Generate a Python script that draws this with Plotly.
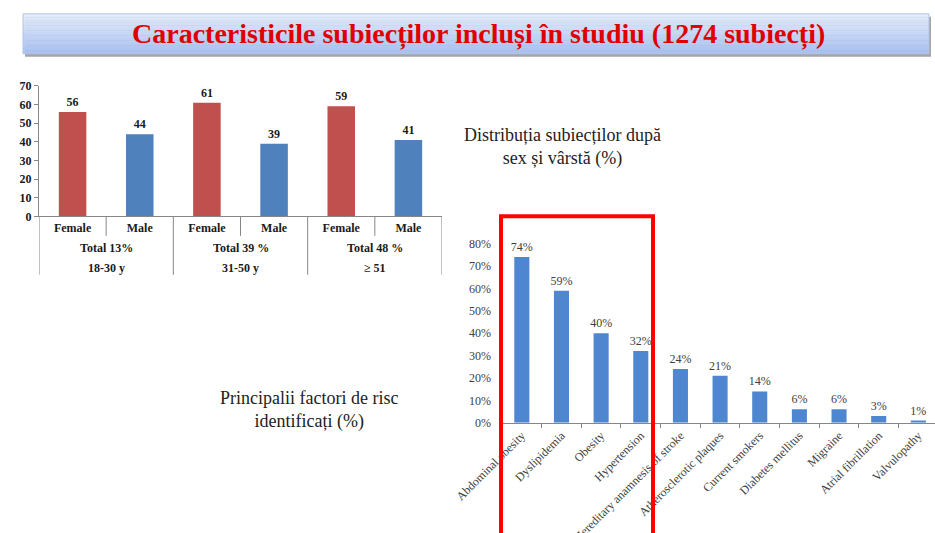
import plotly.graph_objects as go

# ---- data: chart 1 (sex & age distribution) ----
sexes = ["Female", "Male", "Female", "Male", "Female", "Male"]
sex_values = [56, 44, 61, 39, 59, 41]
group_totals = ["Total 13%", "Total 39 %", "Total 48 %"]
age_groups = ["18-30 y", "31-50 y", "≥ 51"]

# ---- data: chart 2 (risk factors) ----
risk_factors = ["Abdominal obesity", "Dyslipidemia", "Obesity", "Hypertension",
                "Hereditary anamnesis of stroke", "Atherosclerotic plaques",
                "Current smokers", "Diabetes mellitus", "Migraine",
                "Atrial fibrillation", "Valvulopathy"]
risk_values = [74, 59, 40, 32, 24, 21, 14, 6, 6, 3, 1]
pct_ticks = [0, 10, 20, 30, 40, 50, 60, 70, 80]

title_text = "Caracteristicile subiecților incluși în studiu (1274 subiecți)"
chart1_caption = "Distribuția subiecților după<br>sex și vârstă (%)"
chart2_caption = "Principalii factori de risc<br>identificați (%)"

W, H = 935, 533
SERIF = "Liberation Serif"

def px(x):
    return x / W

def py(y):
    return 1 - y / H

fig = go.Figure()

x1 = list(range(len(sex_values)))
colors1 = ["#C0504D" if s == "Female" else "#4F81BD" for s in sexes]
fig.add_trace(go.Bar(
    x=x1, y=sex_values, marker=dict(color=colors1, line=dict(width=0)),
    width=0.41, text=["<b>%d</b>" % v for v in sex_values], textposition="outside",
    constraintext="none",
    textfont=dict(family=SERIF, size=12, color="#1a1a1a"),
    cliponaxis=False, xaxis="x", yaxis="y", showlegend=False, hoverinfo="skip"))

fig.add_trace(go.Bar(
    x=risk_factors, y=risk_values, marker=dict(color="#4F86D0", line=dict(width=0)),
    width=0.38, text=[f"{v}%" for v in risk_values], textposition="outside",
    constraintext="none",
    textfont=dict(family=SERIF, size=12, color="#404040"),
    cliponaxis=False, xaxis="x2", yaxis="y2", showlegend=False, hoverinfo="skip"))

shapes = []
BX0, BX1, BY0, BY1 = 23, 929, 7, 48
# banner shadow
shapes.append(dict(type="rect", xref="paper", yref="paper",
                   x0=px(BX0 + 2), x1=px(BX1 + 2), y0=py(BY1 + 3), y1=py(BY0 + 3),
                   fillcolor="#a5a5a5", line=dict(width=0), layer="below"))
# banner gradient
top_c = (228, 236, 252)
bot_c = (168, 193, 240)
n = 24
for i in range(n):
    t = i / (n - 1)
    c = tuple(int(top_c[k] + (bot_c[k] - top_c[k]) * t) for k in range(3))
    ya = BY0 + (BY1 - BY0) * i / n
    yb = BY0 + (BY1 - BY0) * (i + 1) / n
    shapes.append(dict(type="rect", xref="paper", yref="paper",
                       x0=px(BX0), x1=px(BX1), y0=py(yb + 0.3), y1=py(ya),
                       fillcolor="rgb(%d,%d,%d)" % c, line=dict(width=0), layer="below"))
shapes.append(dict(type="rect", xref="paper", yref="paper",
                   x0=px(BX0), x1=px(BX1), y0=py(BY1), y1=py(BY0),
                   fillcolor="rgba(0,0,0,0)", line=dict(color="#b3c3e4", width=1)))

# chart 1 category dividers
for i in range(len(sexes) + 1):
    xv = i - 0.5
    long = (i % 2 == 0)
    shapes.append(dict(type="line", xref="x", yref="paper",
                       x0=xv, x1=xv, y0=py(215), y1=py(275 if long else 235),
                       line=dict(color="#868686", width=1)))

# red highlight box
shapes.append(dict(type="rect", xref="paper", yref="paper",
                   x0=px(501), x1=px(653), y0=py(560), y1=py(215),
                   fillcolor="rgba(0,0,0,0)", line=dict(color="#ff0000", width=4)))

annotations = [
    dict(text="<b>%s</b>" % title_text, x=px(478), y=py(28), xref="paper", yref="paper",
         showarrow=False, font=dict(family=SERIF, size=28, color="#e00000"),
         xanchor="center", yanchor="middle"),
    dict(text=chart1_caption, x=px(562), y=py(144), xref="paper", yref="paper",
         showarrow=False, font=dict(family=SERIF, size=18, color="#222222"),
         xanchor="center", yanchor="middle"),
    dict(text=chart2_caption, x=px(309), y=py(414), xref="paper", yref="paper",
         showarrow=False, font=dict(family=SERIF, size=18, color="#222222"),
         xanchor="center", yanchor="middle"),
]
for g in range(len(group_totals)):
    xc = 2 * g + 0.5
    annotations.append(dict(text="<b>%s</b>" % group_totals[g], x=xc, y=py(248),
                            xref="x", yref="paper", showarrow=False,
                            font=dict(family=SERIF, size=12, color="#1a1a1a"),
                            xanchor="center", yanchor="middle"))
    annotations.append(dict(text="<b>%s</b>" % age_groups[g], x=xc, y=py(268),
                            xref="x", yref="paper", showarrow=False,
                            font=dict(family=SERIF, size=12, color="#1a1a1a"),
                            xanchor="center", yanchor="middle"))

fig.update_layout(
    width=W, height=H, autosize=False,
    margin=dict(l=0, r=0, t=0, b=0),
    paper_bgcolor="white", plot_bgcolor="rgba(0,0,0,0)",
    font=dict(family=SERIF),
    bargap=0.5,
    shapes=shapes, annotations=annotations,
    xaxis=dict(domain=[px(39), px(442)], anchor="y", range=[-0.5, 5.5],
               tickvals=x1, ticktext=["<b>%s</b>" % s for s in sexes],
               tickfont=dict(family=SERIF, size=12, color="#1a1a1a"),
               ticks="", showline=True, linecolor="#868686", linewidth=1,
               showgrid=False, zeroline=False, fixedrange=True),
    yaxis=dict(domain=[py(215), py(81)], anchor="x", range=[0, 70],
               tickvals=list(range(0, 71, 10)),
               ticktext=["<b>%d</b>" % v for v in range(0, 71, 10)],
               tickfont=dict(family=SERIF, size=12, color="#1a1a1a"),
               ticks="outside", ticklen=4, tickcolor="#868686",
               showline=True, linecolor="#868686", linewidth=1,
               showgrid=False, zeroline=False, fixedrange=True),
    xaxis2=dict(domain=[px(502), 1.0], anchor="y2", range=[-0.5, 10.42],
                type="category", tickangle=-45,
                tickfont=dict(family=SERIF, size=12, color="#404040"),
                ticks="outside", tickson="boundaries", ticklen=4, tickcolor="#868686",
                showline=True, linecolor="#868686", linewidth=1,
                showgrid=False, zeroline=False, automargin=False, fixedrange=True),
    yaxis2=dict(domain=[py(427), py(243)], anchor="x2", range=[0, 80],
                tickvals=pct_ticks, ticktext=["%d%%" % v for v in pct_ticks],
                tickfont=dict(family=SERIF, size=12, color="#404040"),
                ticks="", showline=False, showgrid=False, zeroline=False,
                ticklabelstandoff=10, fixedrange=True),
)

fig.write_html("out.html", config={"displayModeBar": False},
               post_script="document.body.style.margin='0';")
